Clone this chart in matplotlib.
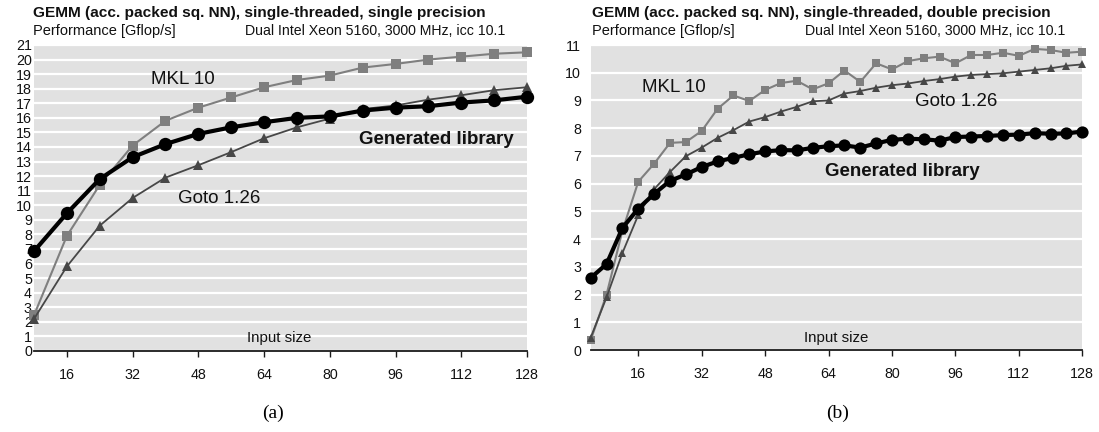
import matplotlib
matplotlib.use("Agg")
import matplotlib.pyplot as plt

plt.rcParams['font.family'] = ['Liberation Sans', 'DejaVu Sans']

# ---- single precision (panel a) ----
sizes_sp = [8, 16, 24, 32, 40, 48, 56, 64, 72, 80, 88, 96, 104, 112, 120, 128]
gen_sp = [6.85, 9.45, 11.8, 13.3, 14.2, 14.9, 15.35, 15.7, 16.0, 16.1, 16.5, 16.7,
          16.8, 17.05, 17.2, 17.45]
mkl_sp = [2.45, 7.9, 11.4, 14.1, 15.8, 16.7, 17.4, 18.1, 18.6, 18.9, 19.45, 19.7,
          20.0, 20.2, 20.4, 20.5]
goto_sp = [2.2, 5.8, 8.6, 10.5, 11.9, 12.75, 13.65, 14.6, 15.35, 15.95, 16.6, 16.85,
           17.25, 17.55, 17.9, 18.1]

# ---- double precision (panel b) ----
sizes_dp = [4, 8, 12, 16, 20, 24, 28, 32, 36, 40, 44, 48, 52, 56, 60, 64,
            68, 72, 76, 80, 84, 88, 92, 96, 100, 104, 108, 112, 116, 120, 124, 128]
gen_dp = [2.6, 3.1, 4.4, 5.1, 5.63, 6.1, 6.33, 6.6, 6.8, 6.93, 7.06, 7.16, 7.21, 7.2,
          7.29, 7.35, 7.38, 7.3, 7.45, 7.58, 7.62, 7.6, 7.55, 7.68, 7.7, 7.72, 7.75,
          7.77, 7.82, 7.8, 7.81, 7.88]
mkl_dp = [0.36, 2.0, 4.3, 6.07, 6.72, 7.47, 7.5, 7.9, 8.7, 9.18, 8.98, 9.38, 9.63,
          9.71, 9.4, 9.62, 10.08, 9.67, 10.34, 10.12, 10.42, 10.52, 10.58, 10.34,
          10.64, 10.64, 10.72, 10.61, 10.86, 10.82, 10.72, 10.76]
goto_dp = [0.45, 1.9, 3.5, 4.87, 5.8, 6.42, 6.99, 7.3, 7.65, 7.93, 8.24, 8.4, 8.6,
           8.77, 8.97, 9.0, 9.25, 9.34, 9.46, 9.55, 9.61, 9.7, 9.77, 9.86, 9.92, 9.95,
           9.98, 10.04, 10.1, 10.16, 10.25, 10.3]

x_ticks = [16, 32, 48, 64, 80, 96, 112, 128]

BG = '#e1e1e1'
MKL_C = '#7f7f7f'
GOTO_C = '#474747'
TXT = '#111111'

fig = plt.figure(figsize=(10.99, 4.32), dpi=100)

W, H = 1099.0, 432.0


def make_axes(l_px, r_px, top_px, bot_px):
    return fig.add_axes([l_px / W, 1 - bot_px / H, (r_px - l_px) / W, (bot_px - top_px) / H])


def style(ax, ymax, xmin, ylab_pad):
    ax.set_facecolor(BG)
    ax.set_xlim(xmin, 128)
    ax.set_ylim(0, ymax)
    ax.set_yticks(range(0, ymax + 1))
    ax.set_xticks(x_ticks)
    for s in ('left', 'right', 'top'):
        ax.spines[s].set_visible(False)
    ax.spines['bottom'].set_color('#1a1a1a')
    ax.spines['bottom'].set_linewidth(1.3)
    ax.grid(axis='y', color='white', linewidth=1.6)
    ax.set_axisbelow(True)
    ax.tick_params(axis='y', length=0, pad=ylab_pad, labelsize=10.3, labelcolor=TXT)
    ax.tick_params(axis='x', length=4.5, width=1, direction='out', pad=8, labelsize=10.3,
                   color='#1a1a1a', labelcolor=TXT)


def draw_series(ax, x, mkl, goto, gen, big):
    ax.plot(x, mkl, color=MKL_C, linewidth=1.5, marker='s',
            markersize=6.8 if big else 6.2, markeredgewidth=0, zorder=3, clip_on=False)
    ax.plot(x, goto, color=GOTO_C, linewidth=1.3, marker='^',
            markersize=6.6 if big else 6.0, markeredgewidth=0, zorder=4, clip_on=False)
    ax.plot(x, gen, color='black', linewidth=3.0, marker='o',
            markersize=9.6 if big else 8.8, markeredgewidth=0, zorder=5, clip_on=False)


# panel (a)
ax1 = make_axes(34, 527, 45, 351)
style(ax1, 21, 8, 1.5)
draw_series(ax1, sizes_sp, mkl_sp, goto_sp, gen_sp, True)
ax1.text(44.3, 18.6, 'MKL 10', fontsize=13.5, ha='center', va='center', color=TXT)
ax1.text(53.1, 10.48, 'Goto 1.26', fontsize=13.5, ha='center', va='center', color=TXT)
ax1.text(106, 14.53, 'Generated library', fontsize=13.5, fontweight='bold',
         ha='center', va='center', color=TXT)
ax1.text(67.8, 0.89, 'Input size', fontsize=10.8, ha='center', va='center', color=TXT)

# panel (b)
ax2 = make_axes(590.7, 1082.3, 45, 350)
style(ax2, 11, 4, 7)
draw_series(ax2, sizes_dp, mkl_dp, goto_dp, gen_dp, False)
ax2.text(25.1, 9.47, 'MKL 10', fontsize=13.5, ha='center', va='center', color=TXT)
ax2.text(96.1, 8.95, 'Goto 1.26', fontsize=13.5, ha='center', va='center', color=TXT)
ax2.text(82.7, 6.43, 'Generated library', fontsize=13.5, fontweight='bold',
         ha='center', va='center', color=TXT)
ax2.text(65.9, 0.43, 'Input size', fontsize=10.8, ha='center', va='center', color=TXT)

# headings
titles = [
    (33, 505, 'GEMM (acc. packed sq. NN), single-threaded, single precision'),
    (591.7, 1065, 'GEMM (acc. packed sq. NN), single-threaded, double precision'),
]
for left_px, right_px, title in titles:
    fig.text(left_px / W, 1 - 13.5 / H, title, fontsize=11.1, fontweight='bold',
             ha='left', va='center', color=TXT)
    fig.text(left_px / W, 1 - 31 / H, 'Performance [Gflop/s]', fontsize=10.5,
             ha='left', va='center', color=TXT)
    fig.text(right_px / W, 1 - 31 / H, 'Dual Intel Xeon 5160, 3000 MHz, icc 10.1',
             fontsize=10.2, ha='right', va='center', color=TXT)

fig.text(273 / W, 1 - 413 / H, '(a)', fontsize=14, family='Liberation Serif',
         ha='center', va='center')
fig.text(838 / W, 1 - 413 / H, '(b)', fontsize=14, family='Liberation Serif',
         ha='center', va='center')

fig.savefig('out.png', dpi=100, facecolor='white')
